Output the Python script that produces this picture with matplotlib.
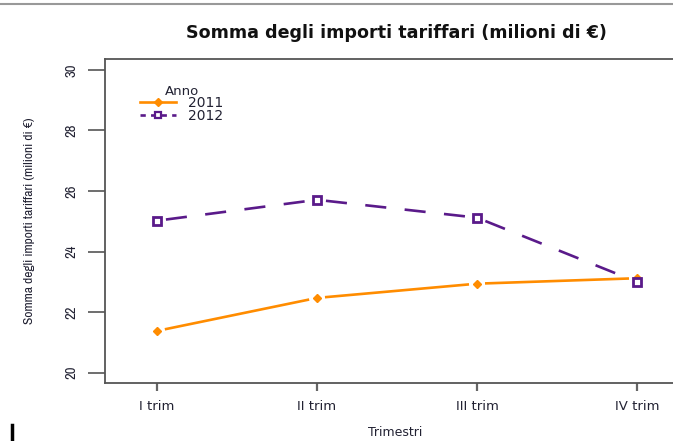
import matplotlib
matplotlib.use("Agg")
import matplotlib.pyplot as plt
from matplotlib.lines import Line2D
from matplotlib import font_manager as fm
import numpy as np

quarters = ["I trim", "II trim", "III trim", "IV trim"]
years = ["2011", "2012"]
values_2011 = [21.38, 22.47, 22.94, 23.12]
values_2012 = [25.02, 25.71, 25.12, 23.00]
yticks = [20, 22, 24, 26, 28, 30]

# pick a narrow font (Arial Narrow look-alike) if available
narrow_props = None
for fam in ["Liberation Sans Narrow", "Arial Narrow", "Archivo Narrow", "PT Sans Narrow"]:
    try:
        fm.findfont(fm.FontProperties(family=fam), fallback_to_default=False)
        narrow_props = dict(family=[fam, "DejaVu Sans"])
        break
    except Exception:
        pass
if narrow_props is None:
    narrow_props = dict(family=["DejaVu Sans"], fontstretch="condensed")
is_true_narrow = "fontstretch" not in narrow_props

W, H = 673, 441
fig = plt.figure(figsize=(W / 100, H / 100), dpi=100)
ax = fig.add_axes([105 / W, (H - 383) / H, (689 - 105) / W, (383 - 59) / H])

x = np.arange(1, len(quarters) + 1)
ax.set_xlim(0.675, 4.325)
ax.set_ylim(19.66, 30.36)

orange = "#ff8c00"
purple = "#5a1a8a"


def gapped(ax, xs, ys, gap_px, **kw):
    fig.canvas.draw()
    pts = ax.transData.transform(np.column_stack([xs, ys]))
    inv = ax.transData.inverted()
    for i in range(len(pts) - 1):
        p0, p1 = pts[i], pts[i + 1]
        d = p1 - p0
        L = np.hypot(*d)
        u = d / L
        a = inv.transform(p0 + u * gap_px)
        b = inv.transform(p1 - u * gap_px)
        ax.plot([a[0], b[0]], [a[1], b[1]], solid_capstyle="butt",
                dash_capstyle="butt", **kw)


gapped(ax, x, values_2011, 8, color=orange, lw=1.9)
ax.plot(x, values_2011, ls="none", marker="D", ms=4.5, color=orange, mec=orange)
gapped(ax, x, values_2012, 9, color=purple, lw=1.9, linestyle=(0, (8, 7)))
ax.plot(x, values_2012, ls="none", marker="s", ms=6, mfc="white", mec=purple, mew=2.0)

for s in ["top", "right", "left", "bottom"]:
    ax.spines[s].set_color("#555555")
    ax.spines[s].set_linewidth(1.3)

ax.set_xticks(x)
ax.set_xticklabels(quarters, fontsize=9.5, color="#222233")
ax.set_yticks(yticks)
ax.set_yticklabels([str(v) for v in yticks], fontsize=10.5 if is_true_narrow else 9.5,
                   color="#222233", rotation=90, va="center", **narrow_props)
ax.tick_params(axis="y", length=12, width=1.2, color="#555555", pad=7)
ax.tick_params(axis="x", length=6, width=1.6, color="#666666", pad=6)

fig.text(396 / W, 1 - 33 / H, "Somma degli importi tariffari (milioni di €)",
         ha="center", va="center", fontsize=12.6, fontweight="bold", color="#111111")
fig.text(395 / W, 1 - 432 / H, "Trimestri", ha="center", va="center",
         fontsize=9, color="#222233")
fig.text(30 / W, 1 - 221 / H, "Somma degli importi tariffari (milioni di €)",
         ha="center", va="center", rotation=90,
         fontsize=9.7 if is_true_narrow else 8, color="#222233", **narrow_props)

handles = [
    Line2D([], [], color=orange, lw=1.9, marker="D", ms=4.5),
    Line2D([], [], color=purple, lw=1.9, linestyle=(0, (2, 2)), marker="s",
           ms=5, mfc="white", mew=1.6),
]
leg = ax.legend(handles, years, title="Anno", loc="upper left",
                bbox_to_anchor=(25 / 584, 1 - 16 / 324), frameon=False,
                fontsize=10, title_fontsize=9.5, handlelength=2.6,
                handletextpad=0.9, labelspacing=-0.1, borderpad=0.2)
leg._legend_box.align = "center"
for t in leg.get_texts():
    t.set_color("#222233")
leg.get_title().set_color("#222233")

# screenshot frame artifacts
fig.add_artist(Line2D([0, 1], [1 - 4 / H, 1 - 4 / H], color="#999999", lw=1.5,
                      transform=fig.transFigure))
fig.add_artist(Line2D([12 / W, 12 / W], [0, 16 / H], color="#000000", lw=2.5,
                      transform=fig.transFigure))

fig.savefig("out.png", dpi=100)
